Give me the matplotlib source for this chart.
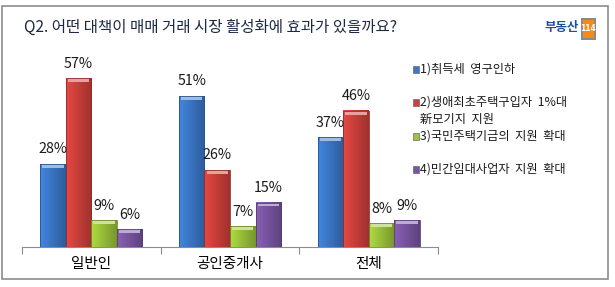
import matplotlib

matplotlib.use("Agg")
import matplotlib.pyplot as plt
import numpy as np
from matplotlib.patches import Rectangle
from matplotlib.colors import to_rgb

plt.rcParams["font.family"] = ["Noto Sans CJK KR", "DejaVu Sans"]

groups = ["일반인", "공인중개사", "전체"]
series = [
    "1)취득세  영구인하",
    "2)생애최초주택구입자  1%대\n新모기지  지원",
    "3)국민주택기금의  지원  확대",
    "4)민간임대사업자  지원  확대",
]
v_acq = [28, 51, 37]
v_first = [57, 26, 46]
v_fund = [9, 7, 8]
v_rent = [6, 15, 9]
all_vals = [v_acq, v_first, v_fund, v_rent]
colors = ["#3b78c8", "#cf403b", "#9cc43a", "#7a56a2"]

W, H = 615, 287
fig = plt.figure(figsize=(W / 100, H / 100), dpi=100)


def px(x, y):
    return x / W, 1 - y / H


# outer frame
fig.patches.append(Rectangle(px(2, 279), 606 / W, 273 / H, transform=fig.transFigure,
                             fill=False, edgecolor="#8c8c8c", linewidth=1.2))

# title
fig.text(*px(24, 27), "Q2. 어떤 대책이 매매 거래 시장 활성화에 효과가 있을까요?",
         fontsize=11.2, color="#1c2844", va="center", ha="left")

# logo
fig.text(*px(579, 28), "부동산", fontsize=9, fontweight="bold", color="#1f4e9a",
         va="center", ha="right")
fig.patches.append(Rectangle(px(581, 40), 15 / W, 22 / H, transform=fig.transFigure,
                             facecolor="#8a8a8a", edgecolor="none"))
fig.patches.append(Rectangle(px(583, 38), 11 / W, 18 / H, transform=fig.transFigure,
                             facecolor="#f28a1c", edgecolor="none"))
fig.text(*px(588.5, 28.5), "114", fontsize=5.5, fontweight="bold", color="white",
         va="center", ha="center", family="DejaVu Sans Condensed")

ax = fig.add_axes([22 / W, 1 - 247 / H, (438 - 22) / W, (247 - 69.4) / H])
x = np.arange(len(groups))
w = 0.184
for j, vals in enumerate(all_vals):
    bars = ax.bar(x + (j - 1.5) * w, vals, w, color=colors[j], edgecolor="none", zorder=2)
    base = np.array(to_rgb(colors[j]))
    for b, v in zip(bars, vals):
        bx, bw, bh = b.get_x(), b.get_width(), b.get_height()
        # horizontal shading to mimic the bevelled bars
        t = np.linspace(0, 1, 40)
        shade = 1.12 - 0.35 * t
        img = np.clip(base[None, None, :] * shade[None, :, None], 0, 1)
        ax.imshow(img, extent=(bx, bx + bw, 0, bh), aspect="auto", zorder=3,
                  interpolation="bilinear")
        cap = min(1.3, bh * 0.5)
        top = np.clip(base * 0.5 + 0.5, 0, 1)
        ax.add_patch(Rectangle((bx + bw * 0.08, bh - cap), bw * 0.84, cap,
                               facecolor=top, edgecolor="none", zorder=4))
        ax.add_patch(Rectangle((bx, 0), bw, bh, fill=False,
                               edgecolor=base * 0.7, linewidth=0.6, zorder=5))
        ax.text(bx + bw / 2, bh + 2.6, f"{v}%", ha="center", va="bottom",
                fontsize=10.3, color="#1a1a1a", zorder=6)

ax.set_xlim(-0.5, 2.5)
ax.set_ylim(0, 60)
for s in ["top", "right", "left"]:
    ax.spines[s].set_visible(False)
ax.spines["bottom"].set_color("#8c8c8c")
ax.set_yticks([])
ax.set_xticks([-0.5, 0.5, 1.5, 2.5])
ax.set_xticklabels([])
ax.tick_params(axis="x", which="major", length=5, color="#8c8c8c", direction="out")
ax.set_xticks(x, minor=True)
ax.set_xticklabels(groups, minor=True, fontsize=10.5)
ax.tick_params(axis="x", which="minor", length=0, pad=7)

# legend
leg_y = [69, 102, 136, 169]
for j, lab in enumerate(series):
    fig.patches.append(Rectangle(px(413, leg_y[j] + 3.5), 6 / W, 7 / H,
                                 transform=fig.transFigure, facecolor=colors[j],
                                 edgecolor="#6a6a6a", linewidth=0.5))
    for k, line in enumerate(lab.split("\n")):
        fig.text(*px(420, leg_y[j] + 17 * k), line, fontsize=8.8, color="#1a1a1a",
                 va="center", ha="left")

fig.savefig("out.png", dpi=100)
